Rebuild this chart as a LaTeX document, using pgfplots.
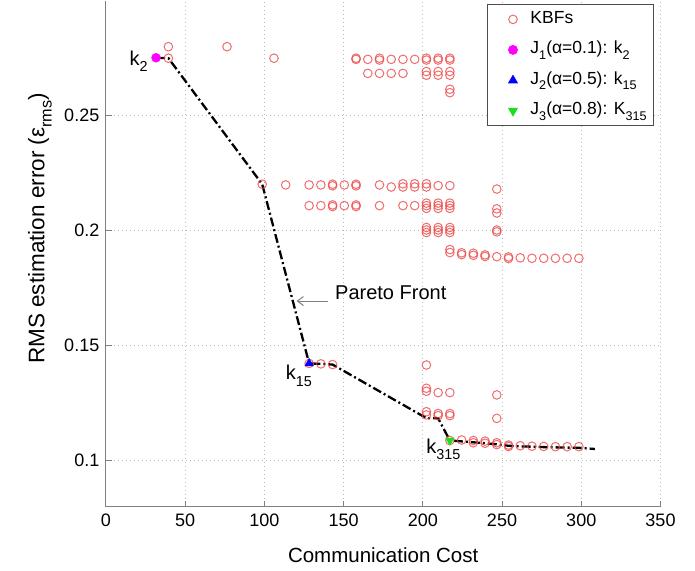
\documentclass[border=0pt]{standalone}
\usepackage{fontspec}
\setmainfont{Liberation Sans}
\usepackage{pgfplots}
\pgfplotsset{compat=1.18}
\usetikzlibrary{arrows.meta}
\makeatletter
\newcommand\sub[1]{\raisebox{-0.32em}{\fontsize{\fpeval{0.72*\f@size}}{0}\selectfont #1}}
\makeatother
\definecolor{kbf}{RGB}{236,72,72}
\definecolor{axgray}{RGB}{128,128,128}
\definecolor{gridgray}{RGB}{185,185,185}
\definecolor{jmag}{RGB}{255,0,255}
\definecolor{jblue}{RGB}{0,0,255}
\definecolor{jgreen}{RGB}{30,220,30}
\pgfplotsset{myleg/.style={legend image code/.code={\draw[mark repeat=2,mark phase=2,##1,draw=none] plot coordinates {(0bp,0bp) (21bp,0bp) (36bp,0bp)};}}}

\pgfplotstableread{
x y
39.5 0.2800
76.5 0.2800
39.5 0.2750
106.1 0.2750
157.9 0.2745
157.9 0.2750
165.3 0.2745
172.7 0.2742
172.7 0.2750
180.1 0.2745
187.5 0.2745
194.9 0.2745
202.3 0.2742
202.3 0.2750
209.7 0.2742
209.7 0.2750
217.1 0.2742
217.1 0.2750
165.3 0.2684
172.7 0.2684
180.1 0.2684
187.5 0.2684
202.3 0.2676
202.3 0.2692
209.7 0.2676
209.7 0.2692
217.1 0.2676
217.1 0.2692
217.1 0.2600
217.1 0.2615
98.7 0.2202
113.5 0.2199
128.3 0.2199
135.7 0.2199
143.1 0.2195
143.1 0.2202
150.5 0.2199
157.9 0.2195
157.9 0.2202
172.7 0.2199
180.1 0.2190
187.5 0.2190
187.5 0.2204
194.9 0.2190
194.9 0.2204
202.3 0.2190
202.3 0.2204
209.7 0.2196
217.1 0.2196
128.3 0.2109
135.7 0.2109
143.1 0.2105
143.1 0.2112
150.5 0.2109
157.9 0.2105
157.9 0.2112
172.7 0.2109
187.5 0.2109
194.9 0.2109
202.3 0.2097
202.3 0.2109
202.3 0.2120
209.7 0.2097
209.7 0.2109
209.7 0.2120
217.1 0.2097
217.1 0.2109
217.1 0.2120
202.3 0.1992
202.3 0.2003
202.3 0.2014
209.7 0.1992
209.7 0.2003
209.7 0.2014
217.1 0.1992
217.1 0.2003
217.1 0.2014
246.7 0.2181
246.7 0.2095
246.7 0.2077
246.7 0.2003
246.7 0.1995
217.1 0.1905
217.1 0.1918
224.5 0.1896
224.5 0.1904
231.9 0.1893
231.9 0.1902
239.3 0.1888
239.3 0.1895
246.7 0.1887
254.1 0.1879
254.1 0.1886
261.5 0.1882
268.9 0.1880
276.3 0.1880
283.7 0.1880
291.1 0.1880
298.5 0.1880
128.3 0.1423
135.7 0.1421
143.1 0.1418
202.3 0.1416
202.3 0.1302
202.3 0.1315
209.7 0.1296
217.1 0.1296
202.3 0.1199
202.3 0.1213
209.7 0.1196
209.7 0.1205
217.1 0.1196
217.1 0.1205
246.7 0.1286
246.7 0.1184
217.1 0.1088
224.5 0.1090
231.9 0.1078
231.9 0.1088
239.3 0.1076
239.3 0.1085
246.7 0.1070
246.7 0.1078
254.1 0.1062
254.1 0.1068
261.5 0.1065
268.9 0.1063
276.3 0.1062
283.7 0.1061
291.1 0.1061
298.5 0.1061
}\kbfdata

\pgfplotstableread{
x y
31.7 0.2752
39.5 0.2750
98.7 0.2202
128.3 0.1423
135.7 0.1421
143.1 0.1418
202.3 0.1185
209.7 0.1184
217.1 0.1088
224.5 0.1084
231.9 0.1080
239.3 0.1076
246.7 0.1071
254.1 0.1065
261.5 0.1062
268.9 0.1061
276.3 0.1059
283.7 0.1058
291.1 0.1057
298.5 0.1056
308.6 0.1051
}\paretodata

\begin{document}
\begin{tikzpicture}
\useasboundingbox (-105.8bp,-64.3bp) rectangle (589.2bp,506.7bp);
\begin{axis}[
  scale only axis, width=554.7bp, height=506bp,
  xmin=0, xmax=350, ymin=0.08, ymax=0.30,
  axis x line=bottom, axis y line=left,
  axis line style={draw=axgray, line width=0.8bp, -},
  tick align=inside, major tick length=6bp,
  tick style={draw=axgray, line width=0.8bp},
  xtick={0,50,100,150,200,250,300,350},
  xticklabels={0,50,100,150,200,250,300,350},
  ytick={0.1,0.15,0.2,0.25},
  yticklabels={0.1,0.15,0.2,0.25},
  ticklabel style={font=\fontsize{18bp}{20bp}\selectfont, text=black},
  xticklabel style={yshift=-4bp},
  yticklabel style={xshift=-3bp},
  grid=major,
  major grid style={draw=gridgray, line width=0.8bp, dash pattern=on 1bp off 3bp},
  xlabel={Communication Cost},
  ylabel={RMS estimation error (ε\sub{rms})},
  xlabel style={font=\fontsize{20.5bp}{24bp}\selectfont, at={(axis description cs:0.5,-0.0955)}, anchor=center},
  ylabel style={font=\fontsize{22.5bp}{26bp}\selectfont, at={(axis description cs:-0.1186,0.55)}, anchor=center},
  legend cell align=left,
  legend style={at={(axis description cs:0.9883,0.9935)}, anchor=north east,
    draw=black!70, line width=0.8bp, fill=white,
    font=\fontsize{17.5bp}{20bp}\selectfont,
    inner xsep=4.5bp, inner ysep=4bp, row sep=8.5bp,
    nodes={inner xsep=2.5bp, inner ysep=2bp, text height=13bp, text depth=5bp}},
]
\addplot[draw=none, mark=o, mark size=4.3bp, mark options={draw=kbf, line width=1bp, draw opacity=0.8}, myleg] table[x=x,y=y] {\kbfdata};
\addlegendentry{KBFs}
\addplot[forget plot, black, line width=2.3bp, dash pattern=on 9bp off 3bp on 2bp off 3bp] table[x=x,y=y] {\paretodata};
\addplot[draw=none, mark=*, mark size=4.5bp, mark options={draw=jmag, fill=jmag}, myleg] coordinates {(31.7,0.2752)};
\addlegendentry{J\sub{1}(α=0.1): k\sub{2}}
\addplot[draw=none, mark=triangle*, mark size=5bp, mark options={draw=jblue, fill=jblue}, myleg] coordinates {(128.3,0.1423)};
\addlegendentry{J\sub{2}(α=0.5): k\sub{15}}
\addplot[draw=none, mark=triangle*, mark size=5bp, mark options={draw=jgreen, fill=jgreen, rotate=180}, myleg] coordinates {(217.1,0.1088)};
\addlegendentry{J\sub{3}(α=0.8): K\sub{315}}
\node[anchor=north east, inner sep=0, font=\fontsize{20bp}{24bp}\selectfont] at (axis cs:26.6,0.2783) {k\sub{2}};
\node[anchor=north east, inner sep=0, font=\fontsize{20bp}{24bp}\selectfont] at (axis cs:130.1,0.1416) {k\sub{15}};
\node[anchor=north east, inner sep=0, font=\fontsize{20bp}{24bp}\selectfont] at (axis cs:223.9,0.1097) {k\sub{315}};
\node[anchor=west, inner sep=0, font=\fontsize{20bp}{24bp}\selectfont] at (axis cs:144.6,0.1730) {Pareto Front};
\draw[axgray, line width=1bp, -{Straight Barb[length=6bp,width=9bp]}] (axis cs:140.4,0.1694) -- (axis cs:120.4,0.1694);
\end{axis}
\end{tikzpicture}
\end{document}
